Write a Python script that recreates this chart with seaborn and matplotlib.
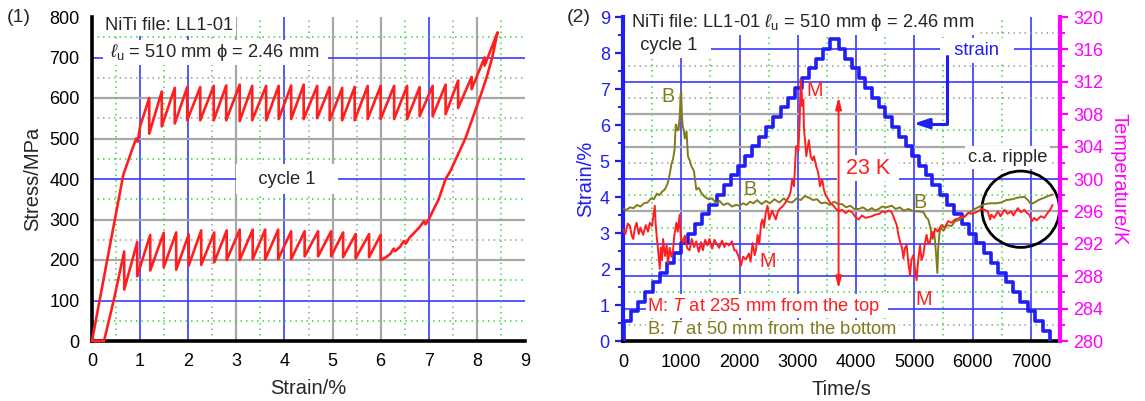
import matplotlib
matplotlib.use("Agg")
import matplotlib.pyplot as plt
import seaborn as sns
from matplotlib.ticker import MultipleLocator
from matplotlib.patches import Ellipse
from matplotlib.transforms import blended_transform_factory

# ---------------- data: panel (1) stress-strain ----------------
load_start_strain = [0.00, 0.30, 0.65, 0.85, 0.92, 0.95, 1.00]
load_start_stress = [0, 190, 410, 478, 500, 492, 530]
load_tooth_strain = [1.19, 1.45, 1.72, 1.98, 2.25, 2.53, 2.79, 3.07, 3.33, 3.62, 3.88, 4.14, 4.40, 4.68,
                     4.94, 5.20, 5.46, 5.73, 6.00, 6.28, 6.55, 6.81, 7.08, 7.35, 7.61, 7.89, 8.16]
load_tooth_high = [600, 616, 625, 627, 627, 630, 631, 633, 630, 630, 630, 631, 633, 630,
                   627, 625, 627, 630, 630, 630, 630, 627, 630, 633, 643, 652, 700]
load_tooth_low = [512, 530, 537, 545, 545, 545, 545, 543, 545, 545, 548, 548, 548, 550,
                  545, 545, 545, 548, 548, 548, 548, 555, 555, 560, 575, 622, 680]
turn_strain = [8.43]
turn_stress = [762]
unload_curve_strain = [8.38, 8.32, 8.20, 8.06, 7.76, 7.45, 7.35, 7.20, 7.10, 7.00, 6.93, 6.90, 6.80,
                       6.60, 6.52, 6.48, 6.40, 6.30, 6.27, 6.20, 6.10, 6.00]
unload_curve_stress = [735, 700, 650, 600, 500, 420, 400, 348, 325, 300, 288, 296, 280,
                       255, 240, 247, 232, 222, 228, 215, 206, 200]
unload_tooth_strain = [6.00, 5.76, 5.48, 5.22, 4.97, 4.70, 4.42, 4.14, 3.87, 3.60, 3.34, 3.07, 2.80,
                       2.54, 2.27, 2.01, 1.75, 1.49, 1.21, 0.94, 0.67]
unload_tooth_low = [200, 207, 204, 207, 209, 209, 209, 202, 202, 201, 202, 200, 200,
                    194, 188, 186, 176, 182, 174, 160, 127]
unload_tooth_high = [262, 264, 264, 268, 271, 271, 271, 271, 275, 275, 275, 275, 273,
                     268, 273, 263, 268, 267, 262, 244, 221]
unload_end_strain = [0.46, 0.25, 0.00]
unload_end_stress = [105, 0, 0]

# ---------------- data: panel (2) strain & temperature vs time ----------------
stair_time = [0, 20, 142, 264, 386, 508, 630, 752, 874, 996, 1118, 1240, 1362, 1484, 1606, 1728,
              1850, 1972, 2094, 2216, 2338, 2460, 2582, 2704, 2826, 2948, 3070, 3192, 3314, 3436, 3558,
              3700, 3815, 3930, 4045, 4160, 4275, 4390, 4505, 4620, 4735, 4850, 4965, 5080, 5195, 5310,
              5436, 5562, 5688, 5814, 5940, 6066, 6192, 6318, 6444, 6570, 6696, 6822, 6948, 7074, 7200,
              7320]
stair_strain = [0.00, 0.55, 0.82, 1.09, 1.36, 1.63, 1.90, 2.17, 2.44, 2.71, 2.98, 3.25, 3.52, 3.79, 4.06,
                4.33, 4.60, 4.87, 5.14, 5.41, 5.68, 5.95, 6.22, 6.49, 6.76, 7.03, 7.30, 7.57, 7.84, 8.11,
                8.38,
                8.11, 7.84, 7.57, 7.30, 7.03, 6.76, 6.49, 6.22, 5.95, 5.68, 5.41, 5.14, 4.87, 4.60, 4.33,
                4.06, 3.79, 3.52, 3.25, 2.98, 2.71, 2.44, 2.17, 1.90, 1.63, 1.36, 1.09, 0.82, 0.55, 0.28,
                0.00]

M_time = [0, 40, 80, 120, 150, 176, 205, 233, 270, 300, 346, 390, 430, 460, 500, 517, 546, 560, 580, 603,
          631, 650, 670, 688, 720, 750, 773, 800, 830, 859, 880, 916, 940, 973, 990, 1030, 1060, 1100,
          1143, 1180, 1220, 1258, 1300, 1340, 1371, 1410, 1450, 1485, 1530, 1570, 1599, 1650, 1700,
          1740, 1770, 1820, 1870, 1910, 1940, 1980, 2025, 2060, 2111, 2160, 2190, 2224, 2260, 2281,
          2310, 2340, 2370, 2395, 2420, 2450, 2480, 2510, 2560, 2600, 2622, 2660, 2700, 2736, 2780,
          2820, 2860, 2878, 2906, 2935, 2969, 2992, 3009, 3031, 3049, 3063, 3077, 3095, 3106, 3124,
          3146, 3170, 3191, 3220, 3254, 3277, 3319, 3350, 3380, 3418, 3447, 3476, 3520, 3560, 3600,
          3646, 3700, 3760, 3820, 3880, 3931, 3990, 4044, 4100, 4160, 4215, 4272, 4329, 4400, 4450,
          4500, 4560, 4613, 4650, 4698, 4730, 4756, 4790, 4812, 4840, 4869, 4900, 4926, 4950, 4983,
          5010, 5039, 5060, 5097, 5125, 5154, 5180, 5210, 5240, 5268, 5300, 5330, 5353, 5400, 5466,
          5520, 5580, 5640, 5694, 5750, 5808, 5860, 5922, 6000, 6092, 6150, 6206, 6260, 6300, 6320,
          6370, 6433, 6480, 6547, 6600, 6661, 6700, 6775, 6830, 6888, 6930, 6974, 7020, 7059, 7100,
          7172, 7230, 7286, 7330, 7372]
M_temp = [293.8, 293.2, 294.5, 294.2, 293.0, 292.6, 294.0, 294.6, 293.2, 294.0, 293.1, 294.3, 293.5,
          294.6, 294.2, 295.2, 296.7, 294.5, 292.8, 291.2, 288.9, 291.5, 290.0, 292.6, 290.5, 291.8,
          289.6, 291.5, 290.4, 291.2, 293.0, 294.6, 293.5, 295.6, 293.0, 292.1, 293.0, 291.5, 291.2,
          292.6, 291.6, 292.3, 291.0, 292.2, 291.2, 292.5, 291.8, 292.6, 291.4, 292.5, 292.1, 291.5,
          292.4, 291.6, 292.1, 291.8, 292.3, 291.2, 291.2, 290.5, 289.3, 290.4, 290.1, 290.8, 289.8,
          292.1, 290.6, 291.2, 293.1, 292.0, 294.5, 295.0, 294.0, 295.8, 296.7, 295.0, 296.1, 295.4,
          295.0, 296.0, 296.4, 296.6, 297.0, 297.5, 298.0, 298.5, 300.0, 299.1, 304.0, 304.1, 303.5,
          306.9, 312.3, 311.5, 309.0, 309.8, 306.1, 304.8, 302.8, 304.0, 304.8, 302.8, 302.3, 302.8,
          301.5, 300.8, 299.1, 300.0, 298.7, 298.0, 297.5, 297.0, 296.8, 296.4, 296.0, 296.2, 295.8,
          296.1, 295.9, 295.3, 295.0, 295.5, 295.2, 295.3, 295.4, 295.6, 295.7, 296.0, 295.9, 296.1,
          295.9, 295.2, 294.3, 293.0, 292.2, 291.5, 290.2, 291.5, 291.8, 289.5, 288.1, 290.0, 290.6,
          289.0, 287.5, 289.5, 291.8, 290.0, 290.6, 292.0, 293.1, 292.0, 292.2, 293.5, 292.8, 293.9,
          293.5, 294.3, 294.0, 294.8, 294.6, 295.0, 295.1, 295.4, 295.3, 295.8, 295.7, 296.0, 296.3,
          296.2, 296.0, 295.0, 295.6, 295.2, 296.0, 295.4, 296.2, 295.7, 296.0, 295.5, 296.4, 295.9,
          296.2, 295.8, 295.6, 294.8, 295.2, 294.9, 295.4, 295.2, 295.8, 296.2, 296.8]

B_time = [0, 60, 120, 180, 240, 300, 358, 420, 480, 530, 580, 620, 680, 718, 768, 800, 830, 860, 886,
          905, 915, 930, 955, 975, 990, 1000, 1010, 1025, 1040, 1060, 1090, 1115, 1150, 1172, 1217,
          1258, 1300, 1345, 1400, 1470, 1530, 1600, 1655, 1720, 1800, 1870, 1940, 1997, 2060, 2120,
          2180, 2240, 2300, 2380, 2452, 2520, 2600, 2680, 2760, 2830, 2902, 2980, 3050, 3120, 3191,
          3260, 3330, 3400, 3476, 3550, 3620, 3700, 3760, 3830, 3900, 3970, 4044, 4120, 4200, 4270,
          4329, 4386, 4450, 4520, 4613, 4680, 4750, 4820, 4900, 4954, 5020, 5090, 5157, 5200, 5240,
          5280, 5310, 5340, 5370, 5395, 5410, 5430, 5450, 5500, 5560, 5640, 5700, 5760, 5810, 5865,
          5930, 6035, 6120, 6206, 6300, 6400, 6490, 6580, 6680, 6775, 6888, 6950, 7000, 7060, 7130,
          7230, 7300, 7372]
B_temp = [296.3, 296.2, 296.5, 296.4, 296.8, 296.6, 297.0, 297.1, 297.6, 297.5, 298.2, 298.0, 298.5,
          298.7, 299.5, 300.5, 301.8, 302.5, 303.7, 306.7, 306.7, 306.0, 306.1, 308.0, 310.5, 310.7,
          308.0, 306.5, 306.1, 305.0, 305.9, 302.8, 302.2, 301.6, 301.0, 298.7, 298.9, 298.3, 297.8,
          297.5, 297.6, 297.0, 297.3, 296.8, 297.0, 296.6, 296.8, 296.7, 297.0, 296.8, 297.2, 297.0,
          297.4, 296.9, 297.3, 297.0, 297.5, 297.1, 297.6, 297.2, 297.1, 297.6, 297.4, 297.9, 297.7,
          297.4, 297.5, 297.0, 297.1, 296.8, 297.2, 296.9, 296.9, 296.5, 296.7, 296.3, 296.3, 296.5,
          296.1, 296.4, 296.1, 296.3, 296.6, 296.5, 296.7, 296.3, 296.5, 296.1, 296.3, 296.1, 296.0,
          296.0, 295.9, 295.3, 295.0, 293.8, 292.6, 293.5, 291.0, 288.4, 291.5, 293.2, 294.0, 293.6,
          294.3, 294.2, 294.8, 294.9, 295.2, 295.4, 295.8, 296.3, 296.6, 296.9, 297.0, 297.0, 297.1,
          297.4, 297.5, 297.7, 297.8, 297.4, 296.9, 297.1, 297.4, 297.7, 297.9, 298.1]

# ---------------- style ----------------
sns.set_style("white")
plt.rcParams["font.family"] = ["Liberation Sans", "DejaVu Sans"]
plt.rcParams["mathtext.fontset"] = "custom"
plt.rcParams["mathtext.rm"] = "Liberation Sans"
plt.rcParams["mathtext.it"] = "Liberation Sans:italic"
plt.rcParams["mathtext.cal"] = "Liberation Sans:italic"

RED = "#ff1f1f"
BLUE = "#1e1ef5"
OLIVE = "#807b1c"
MAGENTA = "#ff00ff"
G_BLUE = "#3a3aff"
G_GRAY = "#a8a8a8"
G_GREEN = "#3ad63a"
D_GRAY = "#9a9a9a"
DOT = (0, (1, 2.6))
FS = 13.2      # annotation text
FT = 13        # tick labels
FL = 14.5      # axis labels
WBOX = dict(facecolor="white", edgecolor="none", pad=1.5)

fig = plt.figure(figsize=(11.45, 4.01), dpi=100)

# ================= panel (1) =================
ax1 = fig.add_axes([92 / 1145, 60 / 401, 433 / 1145, 324 / 401])
for x in [1, 2, 4, 7]:
    ax1.axvline(x, color=G_BLUE, lw=1.2, zorder=0.5)
for x in [3, 5, 6, 8]:
    ax1.axvline(x, color=G_GRAY, lw=1.6, zorder=0.5)
for y in [100, 400, 700]:
    ax1.axhline(y, color=G_BLUE, lw=1.2, zorder=0.5)
for y in [200, 300, 500, 600]:
    ax1.axhline(y, color=G_GRAY, lw=1.6, zorder=0.5)
for x in [0.5, 1.5, 3.5, 6.5, 8.5]:
    ax1.axvline(x, color=G_GREEN, lw=1.1, ls=DOT, zorder=0.5)
for x in [2.5, 4.5, 5.5, 7.5]:
    ax1.axvline(x, color=D_GRAY, lw=1.1, ls=DOT, zorder=0.5)
for y in [50, 150, 350, 450, 750]:
    ax1.axhline(y, color=G_GREEN, lw=1.1, ls=DOT, zorder=0.5)
for y in [250, 550, 650]:
    ax1.axhline(y, color=D_GRAY, lw=1.1, ls=DOT, zorder=0.5)

# assemble the stress-strain path
path_x = list(load_start_strain)
path_y = list(load_start_stress)
for s, hi, lo in zip(load_tooth_strain, load_tooth_high, load_tooth_low):
    path_x += [s, s]
    path_y += [hi, lo]
path_x += turn_strain + unload_curve_strain
path_y += turn_stress + unload_curve_stress
for s, lo, hi in zip(unload_tooth_strain, unload_tooth_low, unload_tooth_high):
    path_x += [s, s]
    path_y += [lo, hi]
path_x += unload_end_strain
path_y += unload_end_stress

sns.lineplot(x=path_x, y=path_y, ax=ax1, sort=False, estimator=None, color=RED, lw=1.9, zorder=4)
ax1.lines[-1].set_clip_on(False)

ax1.set_xlim(0, 9)
ax1.set_ylim(0, 800)
ax1.set_xticks(range(0, 10))
ax1.set_yticks(range(0, 801, 100))
ax1.xaxis.set_minor_locator(MultipleLocator(0.5))
ax1.yaxis.set_minor_locator(MultipleLocator(50))
for sp in ["top", "right"]:
    ax1.spines[sp].set_visible(False)
for sp in ["left", "bottom"]:
    ax1.spines[sp].set_linewidth(2.6)
    ax1.spines[sp].set_color("black")
ax1.tick_params(which="major", direction="out", length=6, width=1.6, labelsize=FT, colors="black", pad=3)
ax1.tick_params(which="minor", direction="out", length=3.5, width=1.4, colors="black")
ax1.set_xlabel("Strain/%", fontsize=FL, labelpad=6)
ax1.set_ylabel("Stress/MPa", fontsize=FL, labelpad=5)

ax1.text(0.28, 778, "NiTi file: LL1-01", fontsize=FS, ha="left", va="center", bbox=WBOX, zorder=3)
ax1.text(0.28, 712, r" $\ell_{\mathrm{u}}$ = 510 mm ϕ = 2.46 mm  ", fontsize=FS, ha="left", va="center",
         bbox=WBOX, zorder=3)
ax1.text(4.05, 400, "   cycle 1   ", fontsize=FS, ha="center", va="center",
         bbox=dict(facecolor="white", edgecolor="none", pad=5), zorder=3)
fig.text(7 / 1145, 1 - 17 / 401, "(1)", fontsize=14, ha="left", va="center")

# ================= panel (2) =================
ax = fig.add_axes([623 / 1145, 60 / 401, 437 / 1145, 324 / 401])
ax2 = ax.twinx()
ax.set_xlim(0, 7500)
ax.set_ylim(0, 9)
ax2.set_ylim(280, 320)
tT = blended_transform_factory(ax.transAxes, ax2.transData)


def hgrid(T, color, lw, ls="-", x0=0.0, x1=1.0):
    ax.plot([x0, x1], [T, T], transform=tT, color=color, lw=lw, ls=ls, zorder=0.5)


for t in range(1000, 7001, 1000):
    ax.axvline(t, color=G_BLUE, lw=1.2, zorder=0.5)
for t in range(500, 7000, 1000):
    ax.axvline(t, color=G_GREEN, lw=1.1, ls=DOT, zorder=0.5)
for T in [284, 288, 292, 300, 312, 316]:
    hgrid(T, G_BLUE, 1.2)
hgrid(296, G_GRAY, 1.6)
hgrid(304, G_GRAY, 1.6)
hgrid(308, G_GRAY, 1.6, x1=0.744)
for T in [282, 290, 302, 310, 314, 318]:
    hgrid(T, D_GRAY, 1.1, DOT)
for T in [286, 294, 298, 306]:
    hgrid(T, G_GREEN, 1.1, DOT)

sns.lineplot(x=stair_time, y=stair_strain, ax=ax, estimator=None, color=BLUE, lw=2.6,
             drawstyle="steps-post", zorder=4)
sns.lineplot(x=B_time, y=B_temp, ax=ax2, sort=False, estimator=None, color=OLIVE, lw=1.4, zorder=4)
sns.lineplot(x=M_time, y=M_temp, ax=ax2, sort=False, estimator=None, color=RED, lw=1.4, zorder=5)
ax.set_xlim(0, 7500)
ax.set_ylim(0, 9)
ax2.set_ylim(280, 320)

# annotations
ax.text(140, 8.86, r"NiTi file: LL1-01 $\ell_{\mathrm{u}}$ = 510 mm ϕ = 2.46 mm", fontsize=FS,
        ha="left", va="center", bbox=WBOX, zorder=3)
ax.text(780, 8.22, "  cycle 1  ", fontsize=FS, ha="center", va="center",
        bbox=dict(facecolor="white", edgecolor="none", pad=3), zorder=3)
ax.text(6070, 8.07, "  strain  ", fontsize=FS, color=BLUE, ha="center", va="center",
        bbox=dict(facecolor="white", edgecolor="none", pad=3), zorder=3)
ax.plot([5563, 5563, 5250], [7.92, 6.04, 6.04], color=BLUE, lw=2.2, zorder=4)
ax.annotate("", xy=(4990, 6.04), xytext=(5300, 6.04),
            arrowprops=dict(arrowstyle="-|>,head_length=0.9,head_width=0.3", color=BLUE, lw=2.2,
                            shrinkA=0, shrinkB=0), zorder=4)
ax.annotate("", xy=(3700, 6.78), xytext=(3700, 1.45),
            arrowprops=dict(arrowstyle="<|-|>,head_length=0.7,head_width=0.18", color=RED, lw=1.4,
                            shrinkA=0, shrinkB=0), zorder=4)
ax.text(4200, 4.8, " 23 K ", fontsize=15.5, color=RED, ha="center", va="center",
        bbox=dict(facecolor="white", edgecolor="none", pad=2), zorder=3)
ax.text(6600, 5.1, "c.a. ripple", fontsize=FS, ha="center", va="center",
        bbox=dict(facecolor="white", edgecolor="none", pad=2), zorder=3)
ax.add_patch(Ellipse((6826, 3.66), 1330, 2.12, fill=False, edgecolor="black", lw=2, zorder=6))
ax.text(770, 6.8, "B", fontsize=FS + 1, color=OLIVE, ha="center", va="center", zorder=6)
ax.text(2170, 4.2, "B", fontsize=FS + 1, color=OLIVE, ha="center", va="center", zorder=6)
ax.text(5100, 3.85, "B", fontsize=FS + 1, color=OLIVE, ha="center", va="center", zorder=6)
ax.text(3290, 6.95, "M", fontsize=FS + 1, color=RED, ha="center", va="center", zorder=6)
ax.text(2490, 2.22, "M", fontsize=FS + 1, color=RED, ha="center", va="center", zorder=6)
ax.text(5165, 1.16, "M", fontsize=FS + 1, color=RED, ha="center", va="center", zorder=6)
ax.text(420, 0.97, r"M: $\mathit{T}$ at 235 mm from the top  ", fontsize=FS, color=RED, ha="left",
        va="center", bbox=dict(facecolor="white", edgecolor="none", pad=1), zorder=3)
ax.text(420, 0.32, r"B: $\mathit{T}$ at 50 mm from the bottom", fontsize=FS, color=OLIVE, ha="left",
        va="center", bbox=dict(facecolor="white", edgecolor="none", pad=1), zorder=3)

ax.set_xticks(range(0, 7001, 1000))
ax.xaxis.set_minor_locator(MultipleLocator(500))
ax.set_yticks(range(0, 10))
ax.yaxis.set_minor_locator(MultipleLocator(0.5))
ax2.set_yticks(range(280, 321, 4))
ax2.yaxis.set_minor_locator(MultipleLocator(2))
for sp in ["top", "right"]:
    ax.spines[sp].set_visible(False)
for sp in ["top", "left", "bottom"]:
    ax2.spines[sp].set_visible(False)
ax.spines["left"].set_color(BLUE)
ax.spines["left"].set_linewidth(3)
ax.spines["bottom"].set_color("black")
ax.spines["bottom"].set_linewidth(2.6)
ax2.spines["right"].set_color(MAGENTA)
ax2.spines["right"].set_linewidth(3)
ax.tick_params(axis="x", which="major", direction="out", length=6, width=1.6, labelsize=FT, colors="black")
ax.tick_params(axis="x", which="minor", direction="out", length=3.5, width=1.4, colors="black")
ax.tick_params(axis="y", which="major", direction="out", length=6, width=1.6, labelsize=FT, colors=BLUE)
ax.tick_params(axis="y", which="minor", direction="out", length=3.5, width=1.4, colors=BLUE)
ax2.tick_params(axis="y", which="major", direction="out", length=6, width=1.6, labelsize=FT, colors=MAGENTA)
ax2.tick_params(axis="y", which="minor", direction="out", length=3.5, width=1.4, colors=MAGENTA)
ax.set_xlabel("Time/s", fontsize=FL, labelpad=6)
ax.set_ylabel("Strain/%", fontsize=FL, color=BLUE, labelpad=3)
ax2.set_ylabel("Temperature/K", fontsize=FL, color=MAGENTA, rotation=270, labelpad=18)
fig.text(567 / 1145, 1 - 17 / 401, "(2)", fontsize=14, ha="left", va="center")

fig.savefig("out.png", dpi=100)
